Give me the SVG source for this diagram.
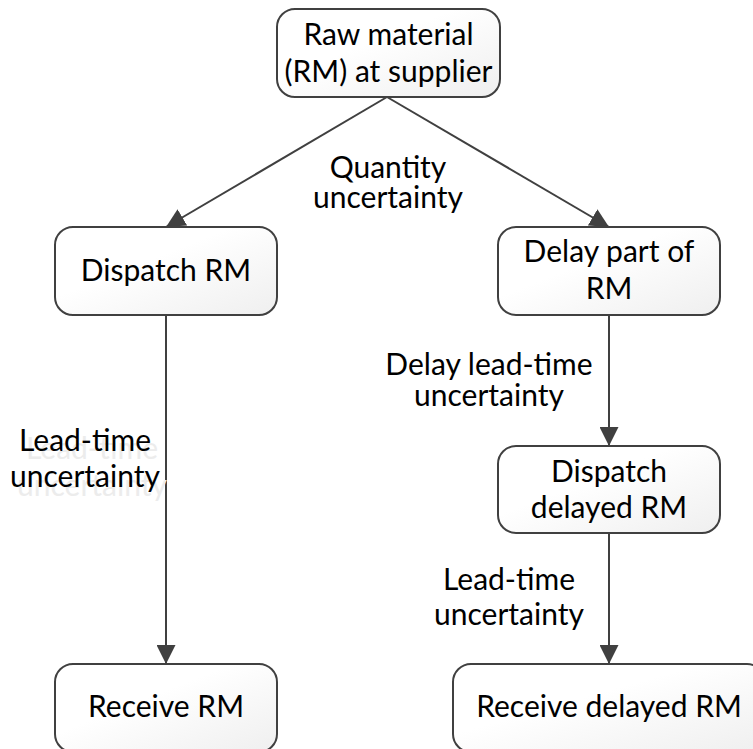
<svg xmlns="http://www.w3.org/2000/svg" width="753" height="749" viewBox="0 0 753 749">
<style>
.box{stroke:#404040;stroke-width:2;fill:url(#g)}
.t{font-family:Lato,"Liberation Sans",sans-serif;font-size:30px;fill:#000;text-anchor:middle}
.ghost{fill:#ececec}
.c{stroke:#404040;stroke-width:2;fill:none;marker-end:url(#a)}
</style>
<defs>
<linearGradient id="g" x1="0" y1="0" x2="1" y2="1">
<stop offset="0.4" stop-color="#ffffff"/>
<stop offset="1" stop-color="#efefef"/>
</linearGradient>
<marker id="a" viewBox="0 0 19 19" refX="19" refY="9.5" markerWidth="19" markerHeight="19" markerUnits="userSpaceOnUse" orient="auto">
<path d="M0,0 L19,9.5 L0,19 Z" fill="#404040"/>
</marker>
</defs>
<rect width="753" height="749" fill="#fff"/>
<g id="connectors">
<line class="c" x1="387" y1="97" x2="166" y2="227"/>
<line class="c" x1="387" y1="97" x2="609" y2="227"/>
<line class="c" x1="166" y1="315" x2="166" y2="664"/>
<line class="c" x1="609" y1="315" x2="609" y2="446"/>
<line class="c" x1="609" y1="533" x2="609" y2="664"/>
</g>
<g id="labels">
<text class="t" x="388" y="178">Quantity</text>
<text class="t" x="388" y="208">uncertainty</text>
<text class="t ghost" x="92" y="459">Lead-time</text>
<text class="t ghost" x="92" y="496">uncertainty</text>
<text class="t" x="85" y="451">Lead-time</text>
<text class="t" x="85" y="487">uncertainty</text>
<text class="t" x="489" y="375">Delay lead-time</text>
<text class="t" x="489" y="406">uncertainty</text>
<text class="t" x="509" y="590">Lead-time</text>
<text class="t" x="509" y="625">uncertainty</text>
</g>
<g id="n-raw">
<rect class="box" x="277" y="9" width="223" height="88" rx="18"/>
<text class="t" x="388.5" y="45">Raw material</text>
<text class="t" x="388.5" y="82">(RM) at supplier</text>
</g>
<g id="n-dispatch">
<rect class="box" x="55" y="227" width="222" height="88" rx="18"/>
<text class="t" x="166" y="281">Dispatch RM</text>
</g>
<g id="n-delay">
<rect class="box" x="498" y="227" width="222" height="88" rx="18"/>
<text class="t" x="609" y="262">Delay part of</text>
<text class="t" x="609" y="299">RM</text>
</g>
<g id="n-dispatch-delayed">
<rect class="box" x="498" y="446" width="222" height="87" rx="18"/>
<text class="t" x="609" y="482">Dispatch</text>
<text class="t" x="609" y="518">delayed RM</text>
</g>
<g id="n-receive">
<rect class="box" x="55" y="664" width="222" height="88" rx="18"/>
<text class="t" x="166" y="717">Receive RM</text>
</g>
<g id="n-receive-delayed">
<rect class="box" x="453" y="664" width="312" height="88" rx="18"/>
<text class="t" x="609" y="717">Receive delayed RM</text>
</g>
</svg>
